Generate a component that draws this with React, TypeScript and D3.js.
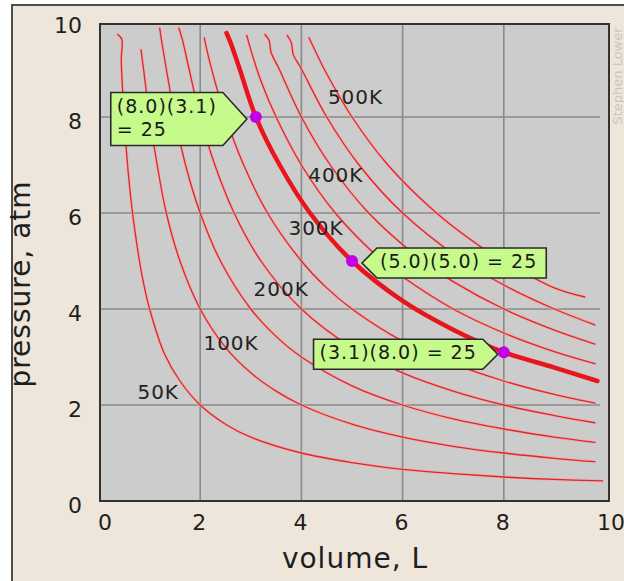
import React, { useEffect, useRef } from "react";
import * as d3 from "d3";

// axis ticks and grid
const tickValues = [0, 2, 4, 6, 8, 10];
const gridValues = [2, 4, 6, 8];

// isotherms, [volume L, pressure atm]
const iso50 = [[0.37, 9.72], [0.45, 9.62], [0.44, 9.2], [0.47, 8.5], [0.52, 7.6], [0.6, 6.6], [0.7, 5.7], [0.85, 4.7], [1.0, 4.0], [1.3, 3.05], [1.6, 2.5], [2.0, 2.0], [2.5, 1.6], [3.0, 1.33], [4.0, 1.0], [5.0, 0.8], [6.0, 0.66], [7.0, 0.57], [8.0, 0.5], [9.0, 0.45], [9.95, 0.42]];
const iso100 = [[0.83, 9.4], [0.88, 9.0], [1.0, 8.0], [1.15, 7.0], [1.33, 6.0], [1.6, 5.0], [2.0, 4.0], [2.5, 3.2], [3.0, 2.67], [3.5, 2.29], [4.0, 2.0], [5.0, 1.6], [6.0, 1.33], [7.0, 1.14], [8.0, 1.0], [9.0, 0.89], [9.8, 0.82]];
const iso150 = [[1.2, 9.85], [1.25, 9.5], [1.33, 9.0], [1.5, 8.0], [1.71, 7.0], [2.0, 6.0], [2.4, 5.0], [3.0, 4.0], [3.5, 3.43], [4.0, 3.0], [5.0, 2.4], [6.0, 2.0], [7.0, 1.71], [8.0, 1.5], [9.0, 1.33], [9.8, 1.22]];
const iso200 = [[1.58, 9.85], [1.65, 9.6], [1.78, 9.0], [2.0, 8.0], [2.29, 7.0], [2.67, 6.0], [3.2, 5.0], [4.0, 4.0], [5.0, 3.2], [6.0, 2.67], [7.0, 2.29], [8.0, 2.0], [9.0, 1.78], [9.8, 1.63]];
const iso250 = [[2.08, 9.65], [2.2, 9.1], [2.5, 8.0], [2.86, 7.0], [3.33, 6.0], [4.0, 5.0], [4.5, 4.44], [5.0, 4.0], [6.0, 3.33], [7.0, 2.86], [8.0, 2.5], [9.0, 2.22], [9.8, 2.04]];
const iso300 = [[2.52, 9.75], [2.6, 9.55], [2.78, 9.0], [3.1, 8.0], [3.57, 7.0], [4.17, 6.0], [5.0, 5.0], [6.0, 4.17], [7.0, 3.57], [8.0, 3.1], [9.0, 2.78], [9.85, 2.5]];
const iso350 = [[2.92, 9.7], [3.0, 9.4], [3.2, 8.75], [3.5, 8.0], [4.0, 7.0], [4.67, 6.0], [5.6, 5.0], [6.0, 4.67], [7.0, 4.0], [8.0, 3.5], [9.0, 3.11], [9.8, 2.86]];
const iso400 = [[3.28, 9.72], [3.36, 9.6], [3.4, 9.35], [3.56, 9.0], [4.0, 8.0], [4.57, 7.0], [5.33, 6.0], [6.4, 5.0], [7.0, 4.57], [8.0, 4.0], [9.0, 3.56], [9.8, 3.27]];
const iso450 = [[3.72, 9.7], [3.8, 9.55], [3.84, 9.3], [4.0, 9.0], [4.5, 8.0], [5.14, 7.0], [6.0, 6.0], [7.2, 5.0], [8.0, 4.5], [9.0, 4.0], [9.8, 3.67]];
const iso500 = [[4.15, 9.65], [4.5, 8.9], [5.0, 8.0], [5.71, 7.0], [6.67, 6.0], [7.5, 5.33], [8.0, 5.0], [9.0, 4.44], [9.6, 4.25]];

const thinCurves = [iso50, iso100, iso150, iso200, iso250, iso350, iso400, iso450, iso500];
const thickCurve = iso300;

// temperature labels and where they sit (V, P)
const tempLabels = [
  { text: "500K", v: 5.07, p: 8.41 },
  { text: "400K", v: 4.68, p: 6.8 },
  { text: "300K", v: 4.29, p: 5.68 },
  { text: "200K", v: 3.6, p: 4.42 },
  { text: "100K", v: 2.61, p: 3.3 },
  { text: "50K", v: 1.17, p: 2.28 },
];

const callouts = [
  { v: 3.1, p: 8.0, side: "left", lines: ["(8.0)(3.1)", "= 25"] },
  { v: 5.0, p: 5.0, side: "right", lines: ["(5.0)(5.0) = 25"] },
  { v: 8.0, p: 3.1, side: "left", lines: ["(3.1)(8.0) = 25"] },
];

const font = "'DejaVu Sans', Verdana, sans-serif";

export default function App() {
  const ref = useRef<SVGSVGElement>(null);

  useEffect(() => {
    const svg = d3.select(ref.current);
    svg.selectAll("*").remove();

    const plot = { left: 100, top: 24, right: 609, bottom: 501 };

    const x = d3.scaleLinear().domain([0, 10]).range([99, 605]);
    const y = d3.scaleLinear().domain([0, 10]).range([501, 21]);

    // outer frame
    svg
      .append("rect")
      .attr("x", 12)
      .attr("y", 5)
      .attr("width", 640)
      .attr("height", 600)
      .attr("fill", "#eee6da")
      .attr("stroke", "#4d4d4d")
      .attr("stroke-width", 2);

    // watermark
    svg
      .append("text")
      .attr("transform", "translate(622,76) rotate(-90)")
      .attr("text-anchor", "middle")
      .attr("font-family", font)
      .attr("font-size", 13)
      .attr("fill", "#cdc5bb")
      .text("Stephen Lower");

    // plot area
    svg
      .append("rect")
      .attr("x", plot.left)
      .attr("y", plot.top)
      .attr("width", plot.right - plot.left)
      .attr("height", plot.bottom - plot.top)
      .attr("fill", "#cccccc");

    const grid = svg.append("g").attr("stroke", "#8a8a8a").attr("stroke-width", 1.6);
    gridValues.forEach((v) => {
      grid
        .append("line")
        .attr("x1", x(v))
        .attr("x2", x(v))
        .attr("y1", plot.top)
        .attr("y2", plot.bottom);
      grid
        .append("line")
        .attr("x1", plot.left)
        .attr("x2", x(9.9))
        .attr("y1", y(v))
        .attr("y2", y(v));
    });

    svg
      .append("rect")
      .attr("x", plot.left)
      .attr("y", plot.top)
      .attr("width", plot.right - plot.left)
      .attr("height", plot.bottom - plot.top)
      .attr("fill", "none")
      .attr("stroke", "#333")
      .attr("stroke-width", 2);

    const line = d3
      .line<number[]>()
      .x((d) => x(d[0]))
      .y((d) => y(d[1]))
      .curve(d3.curveCatmullRom.alpha(0.5));

    const curves = svg.append("g").attr("fill", "none").attr("stroke-linecap", "round");
    thinCurves.forEach((c) => {
      curves
        .append("path")
        .attr("d", line(c))
        .attr("stroke", "#f2a6a6")
        .attr("stroke-width", 3)
        .attr("stroke-opacity", 0.7);
      curves
        .append("path")
        .attr("d", line(c))
        .attr("stroke", "#e0262a")
        .attr("stroke-width", 1.3);
    });
    curves
      .append("path")
      .attr("d", line(thickCurve))
      .attr("stroke", "#e8161c")
      .attr("stroke-width", 4.5);

    // temperature labels
    svg
      .append("g")
      .selectAll("text")
      .data(tempLabels)
      .join("text")
      .attr("x", (d) => x(d.v))
      .attr("y", (d) => y(d.p) + 7)
      .attr("text-anchor", "middle")
      .attr("font-family", font)
      .attr("font-size", 20)
      .attr("letter-spacing", 1)
      .attr("fill", "#222")
      .text((d) => d.text);

    // callouts
    const lineH = 23;
    callouts.forEach((c) => {
      const px = x(c.v);
      const py = y(c.p);
      const h = c.lines.length * lineH + 7;
      const top = py + 2 - h / 2;
      const mid = top + h / 2;
      const g = svg.append("g");
      const box = g.append("path");
      const text = g
        .append("text")
        .attr("font-family", font)
        .attr("font-size", 19)
        .attr("letter-spacing", 1)
        .attr("fill", "#1a1a1a");
      c.lines.forEach((ln, i) => {
        text.append("tspan").attr("x", 0).attr("y", top + 20 + i * lineH).text(ln);
      });
      const w = (text.node() as SVGTextElement).getBBox().width + 12;
      const arrow = Math.min(h / 2, 24);
      if (c.side === "left") {
        const tip = px - (c.lines.length > 1 ? 9 : 6);
        const right = tip - arrow;
        const left = right - w;
        text.attr("transform", `translate(${left + 6},0)`);
        box.attr(
          "d",
          `M${left},${top}H${right}L${tip},${mid}L${right},${top + h}H${left}Z`
        );
      } else {
        const tip = px + 10;
        const left = tip + arrow;
        const right = left + w;
        text.attr("transform", `translate(${left + 3},0)`);
        box.attr(
          "d",
          `M${tip},${mid}L${left},${top}H${right}V${top + h}H${left}Z`
        );
      }
      box
        .attr("fill", "#c6fa8a")
        .attr("stroke", "#2a2a2a")
        .attr("stroke-width", 1.6)
        .attr("stroke-linejoin", "miter");

      g.append("circle").attr("cx", px).attr("cy", py).attr("r", 6).attr("fill", "#c400e6");
    });

    // tick labels
    svg
      .append("g")
      .selectAll("text")
      .data(tickValues)
      .join("text")
      .attr("x", 82)
      .attr("y", (d) => y(d) + 12)
      .attr("text-anchor", "end")
      .attr("font-family", font)
      .attr("font-size", 22)
      .attr("fill", "#1e1e1e")
      .text((d) => d);

    svg
      .append("g")
      .selectAll("text")
      .data(tickValues)
      .join("text")
      .attr("x", (d) => x(d) + (d === 0 ? 6 : d === 10 ? 6 : -1))
      .attr("y", 530)
      .attr("text-anchor", "middle")
      .attr("font-family", font)
      .attr("font-size", 22)
      .attr("fill", "#1e1e1e")
      .text((d) => d);

    // axis titles
    svg
      .append("text")
      .attr("x", 355)
      .attr("y", 568)
      .attr("text-anchor", "middle")
      .attr("font-family", font)
      .attr("font-size", 28)
      .attr("letter-spacing", 1)
      .attr("fill", "#1e1e1e")
      .text("volume, L");

    svg
      .append("text")
      .attr("transform", "translate(30,284) rotate(-90)")
      .attr("text-anchor", "middle")
      .attr("font-family", font)
      .attr("font-size", 28)
      .attr("letter-spacing", 1)
      .attr("fill", "#1e1e1e")
      .text("pressure, atm");
  }, []);

  return (
    <svg
      ref={ref}
      width={624}
      height={581}
      style={{ position: "absolute", left: 0, top: 0 }}
    />
  );
}
